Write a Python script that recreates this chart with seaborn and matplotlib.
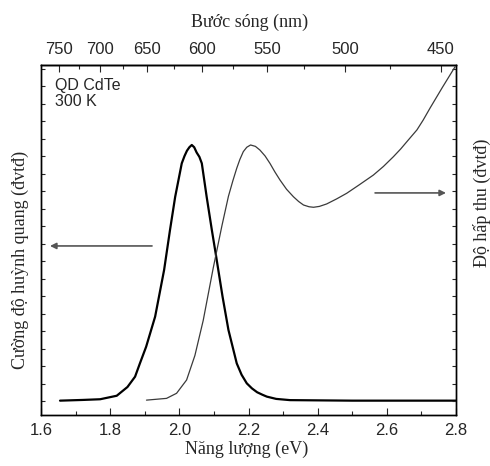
import numpy as np
import pandas as pd
import matplotlib
matplotlib.use("Agg")
import matplotlib.pyplot as plt
import seaborn as sns
from matplotlib.ticker import MultipleLocator, NullFormatter, FixedLocator

# ---- data ----
pl_energy = [1.655, 1.72, 1.771, 1.819, 1.850, 1.872, 1.886, 1.904, 1.930, 1.956,
             1.973, 1.988, 2.007, 2.015, 2.022, 2.029, 2.036, 2.043, 2.050, 2.058,
             2.065, 2.079, 2.094, 2.105, 2.125, 2.142, 2.166, 2.180, 2.195, 2.210,
             2.225, 2.240, 2.253, 2.280, 2.32, 2.50, 2.80]
pl_intensity = [0.02, 0.06, 0.10, 0.30, 0.80, 1.39, 2.15, 3.10, 4.82, 7.49,
                9.77, 11.67, 13.58, 14.00, 14.30, 14.50, 14.63, 14.50, 14.20, 13.95,
                13.58, 11.67, 9.77, 8.44, 5.96, 4.06, 2.15, 1.50, 1.01, 0.72,
                0.50, 0.36, 0.25, 0.12, 0.05, 0.02, 0.02]

abs_energy = [1.905, 1.963, 1.992, 2.021, 2.045, 2.069, 2.098, 2.123, 2.142, 2.155,
              2.166, 2.175, 2.185, 2.195, 2.206, 2.220, 2.233, 2.248, 2.262, 2.276,
              2.291, 2.310, 2.330, 2.345, 2.359, 2.375, 2.388, 2.405, 2.426, 2.455,
              2.484, 2.520, 2.561, 2.590, 2.619, 2.640, 2.658, 2.687, 2.705, 2.725,
              2.760, 2.797]
abs_value = [0.05, 0.15, 0.44, 1.20, 2.60, 4.60, 7.60, 10.00, 11.70, 12.60,
             13.30, 13.80, 14.25, 14.50, 14.63, 14.55, 14.34, 14.00, 13.58, 13.10,
             12.63, 12.10, 11.67, 11.40, 11.20, 11.10, 11.07, 11.12, 11.26, 11.55,
             11.87, 12.35, 12.91, 13.40, 13.96, 14.40, 14.82, 15.49, 16.05, 16.74,
             17.90, 19.09]

x_ticks = [1.6, 1.8, 2.0, 2.2, 2.4, 2.6, 2.8]
wl_major = [750, 700, 650, 600, 550, 500, 450]
wl_minor = [725, 675, 625, 575, 525, 475]

x_label = "Năng lượng (eV)"
top_label = "Bước sóng (nm)"
left_label = "Cường độ huỳnh quang (đvtđ)"
right_label = "Độ hấp thu (đvtđ)"
sample_text = "QD CdTe\n300 K"

# ---- styling ----
sns.set_style("ticks")
plt.rcParams["font.family"] = ["Liberation Sans", "DejaVu Sans"]
serif = ["Liberation Serif", "DejaVu Serif"]

fig = plt.figure(figsize=(4.9, 4.66), dpi=100)
ax = fig.add_axes([41/490, 1 - 415/466, 415/490, 350/466])
ax2 = ax.twinx()

pl_df = pd.DataFrame({"E": pl_energy, "I": pl_intensity})
abs_df = pd.DataFrame({"E": abs_energy, "A": abs_value})

sns.lineplot(data=pl_df, x="E", y="I", ax=ax, color="black", linewidth=1.6,
             sort=False, estimator=None)
sns.lineplot(data=abs_df, x="E", y="A", ax=ax2, color="#3a3a3a", linewidth=0.9,
             sort=False, estimator=None)

ylim = (-0.8, 19.2)
for a in (ax, ax2):
    a.set_xlim(1.6, 2.8)
    a.set_ylim(*ylim)
    a.set_ylabel("")
    a.set_xlabel("")
    a.yaxis.set_major_locator(MultipleLocator(1))
    a.yaxis.set_major_formatter(NullFormatter())
    for s in a.spines.values():
        s.set_linewidth(1.0)
        s.set_color("black")
        s.set_visible(True)

ax.tick_params(axis="y", direction="in", length=3, width=0.8, left=True, right=False)
ax2.tick_params(axis="y", direction="in", length=3, width=0.8, left=False, right=True)

ax.set_xticks(x_ticks)
ax.set_xticklabels([f"{t:.1f}" for t in x_ticks])
ax.xaxis.set_minor_locator(MultipleLocator(0.1))
ax.tick_params(axis="x", which="major", direction="in", length=5, width=0.8,
               labelsize=12, pad=6, top=False)
ax.tick_params(axis="x", which="minor", direction="in", length=3, width=0.8, top=False)

# top wavelength axis
hc = 1239.84
top = ax.secondary_xaxis("top", functions=(lambda e: e, lambda e: e))
top.xaxis.set_major_locator(FixedLocator([hc / w for w in wl_major]))
top.xaxis.set_minor_locator(FixedLocator([hc / w for w in wl_minor]))
top.set_xticklabels([str(w) for w in wl_major])
top.tick_params(axis="x", which="major", direction="in", length=5, width=0.8,
                labelsize=12, pad=6)
top.tick_params(axis="x", which="minor", direction="in", length=3, width=0.8)
top.spines["top"].set_linewidth(1.0)

# labels
fig.text(247/490, 1 - 449/466, x_label, ha="center", va="center",
         fontsize=13, family=serif)
fig.text(250/490, 1 - 22/466, top_label, ha="center", va="center",
         fontsize=13, family=serif)
fig.text(20/490, 1 - 260/466, left_label, ha="center", va="center",
         rotation=90, fontsize=13, family=serif)
fig.text(482/490, 1 - 203/466, right_label, ha="center", va="center",
         rotation=90, fontsize=13, family=serif)

ax.text(0.034, 0.962, sample_text, transform=ax.transAxes, ha="left", va="top",
        fontsize=11.5, linespacing=1.1)

# arrows
arrow_kw = dict(arrowstyle="-|>", color="#555555", lw=1.2,
                mutation_scale=9, shrinkA=0, shrinkB=0)
ax.annotate("", xy=(1.626, 8.86), xytext=(1.921, 8.86), arrowprops=arrow_kw)
ax.annotate("", xy=(2.771, 11.89), xytext=(2.566, 11.89), arrowprops=arrow_kw)

fig.savefig("out.png", dpi=100)
